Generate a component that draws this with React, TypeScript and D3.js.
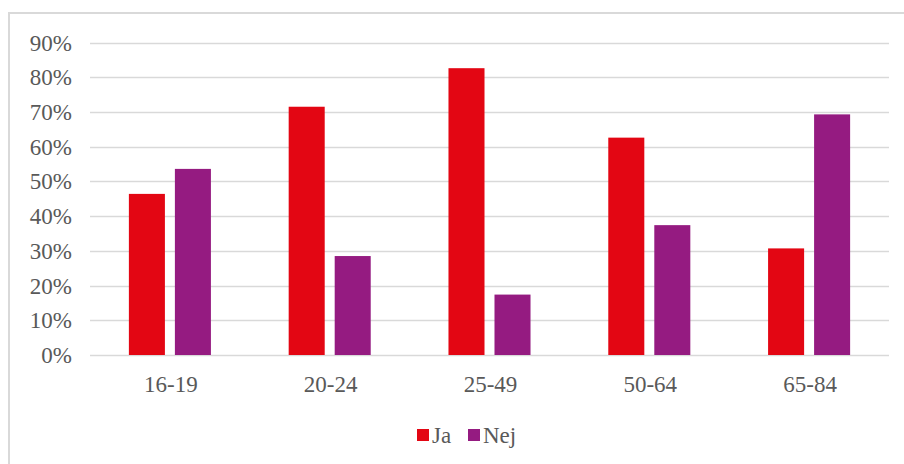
import React from "react";
import * as d3 from "d3";

const categories = ["16-19", "20-24", "25-49", "50-64", "65-84"];
const seriesNames = ["Ja", "Nej"];
const jaValues = [0.464, 0.715, 0.826, 0.626, 0.307];
const nejValues = [0.536, 0.285, 0.174, 0.374, 0.693];
const yTicks = [0, 0.1, 0.2, 0.3, 0.4, 0.5, 0.6, 0.7, 0.8, 0.9];
const colors = ["#E30613", "#951B81"];

const W = 904;
const H = 464;
const FONT = "Liberation Serif, DejaVu Serif, serif";
const TEXT = "#595959";
const ts = { fontFamily: FONT, fontSize: "23px", fill: TEXT };

export default function App() {
  const x0 = d3.scaleBand<string>().domain(categories).range([90, 889]).paddingInner(0).paddingOuter(0);
  const x1 = d3
    .scaleBand<string>()
    .domain(seriesNames)
    .range([0, x0.bandwidth()])
    .paddingInner(0.217)
    .paddingOuter(0.845);
  const y = d3.scaleLinear().domain([0, 0.9]).range([355, 42.5]);
  const fmt = d3.format(".0%");
  const data = [jaValues, nejValues];

  return (
    <svg
      width={W}
      height={H}
      style={{ position: "absolute", left: 0, top: 0, background: "#fff", fontFamily: FONT }}
    >
      <rect x={0} y={0} width={W} height={H} fill="#fff" />
      <line x1={9} y1={13} x2={W} y2={13} stroke="#d9d9d9" strokeWidth={2} />
      <line x1={9} y1={12} x2={9} y2={H} stroke="#d9d9d9" strokeWidth={2} />
      {yTicks.map((t) => (
        <g key={t}>
          <line x1={90} x2={889} y1={Math.round(y(t)) + 0.5} y2={Math.round(y(t)) + 0.5} stroke="#d9d9d9" strokeWidth={1.3} />
          <text x={72} y={y(t)} dy="0.35em" textAnchor="end" style={ts}>
            {fmt(t)}
          </text>
        </g>
      ))}
      {categories.map((c, i) => (
        <g key={c} transform={`translate(${x0(c)},0)`}>
          {seriesNames.map((s, j) => (
            <rect
              key={s}
              x={x1(s)}
              y={y(data[j][i])}
              width={x1.bandwidth()}
              height={y(0) - y(data[j][i])}
              fill={colors[j]}
            />
          ))}
          <text x={x0.bandwidth() / 2 + 1} y={392} textAnchor="middle" style={ts}>
            {c}
          </text>
        </g>
      ))}
      <g>
        <rect x={417} y={429} width={12} height={12} fill={colors[0]} />
        <text x={432} y={443} style={ts}>
          Ja
        </text>
        <rect x={468} y={429} width={12} height={12} fill={colors[1]} />
        <text x={483} y={443} style={ts}>
          Nej
        </text>
      </g>
    </svg>
  );
}
